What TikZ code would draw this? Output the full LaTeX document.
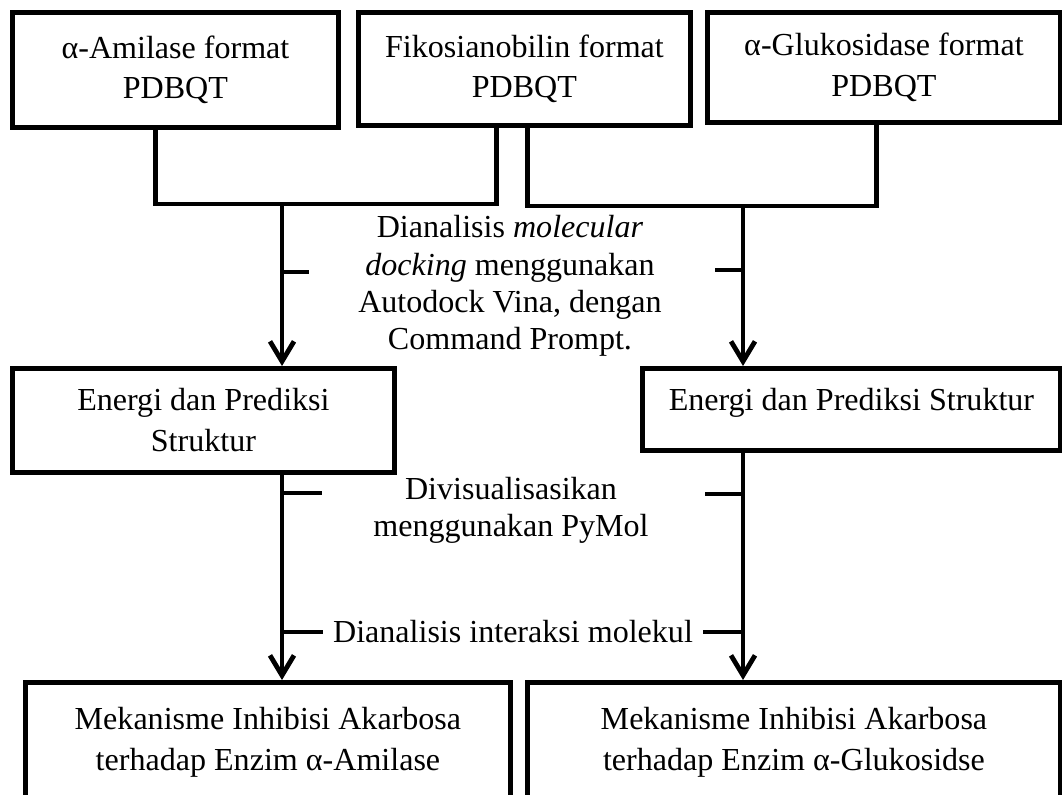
\documentclass[tikz,border=0pt]{standalone}
\usepackage{fontspec}
\setmainfont{Liberation Serif}
\usetikzlibrary{arrows.meta}

\begin{document}
\begin{tikzpicture}[
  x=0.025cm, y=-0.025cm,
  box/.style={rectangle, draw=black, line width=3.4pt, anchor=north west, inner sep=0pt, align=center, font=\fontsize{22.8}{29}\selectfont},
  note/.style={align=center, inner sep=0pt, font=\fontsize{22.8}{26.5}\selectfont},
  link/.style={draw=black, line width=3.4pt},
  arrow/.style={link, -{Straight Barb[length=0.5cm, width=0.6cm]}}
]
  \useasboundingbox (0,0) rectangle (1062,794);
  \clip (0,0) rectangle (1062,794);

  \node[box, minimum width=8.15cm, minimum height=2.875cm] (amilase) at (10,10) {α-Amilase format\\PDBQT};
  \node[box, minimum width=8.3cm, minimum height=2.825cm] (fiko) at (356,10) {Fikosianobilin format\\PDBQT};
  \node[box, minimum width=8.825cm, minimum height=2.75cm] (gluko) at (705,10) {α-Glukosidase format\\PDBQT};
  \node[box, minimum width=9.55cm, minimum height=2.6cm] (energiA) at (10,366) {Energi dan Prediksi\\Struktur};
  \node[box, minimum width=10.45cm, text height=1.05cm, text depth=1.0cm] (energiG) at (640,366) {Energi dan Prediksi Struktur};
  \node[box, minimum width=12.125cm, minimum height=3cm] (hasilA) at (23,680) {Mekanisme Inhibisi Akarbosa\\terhadap Enzim α-Amilase};
  \node[box, minimum width=13.325cm, minimum height=3cm] (hasilG) at (525,680) {Mekanisme Inhibisi Akarbosa\\terhadap Enzim α-Glukosidse};

  \node[note] (lbdock) at (510,286) {Dianalisis \emph{molecular}\\\emph{docking} menggunakan\\Autodock Vina, dengan\\Command Prompt.};
  \node[note] (lbvisual) at (511,510) {Divisualisasikan\\menggunakan PyMol};
  \node[note, inner xsep=0.25cm] (lbinteraksi) at (513,632) {Dianalisis interaksi molekul};

  \coordinate (barA) at (282,204);
  \coordinate (barG) at (743,206);

  \draw[link] ([xshift=-0.5cm]amilase.south) |- (barA) -| ([xshift=-0.7cm]fiko.south);
  \draw[link] ([xshift=0.075cm]fiko.south) |- (barG) -| ([xshift=-0.19cm]gluko.south);

  \draw[arrow] (barA) -- (barA |- energiA.north);
  \draw[arrow] (barG) -- (barG |- energiG.north);
  \draw[arrow] (barA |- energiA.south) -- (barA |- hasilA.north);
  \draw[arrow] (barG |- energiG.south) -- (barG |- hasilG.north);

  \draw[link] (barA |- 0,272) -- ++(27,0);
  \draw[link] (barG |- 0,270) -- ++(-28,0);
  \draw[link] (barA |- 0,493) -- ++(40,0);
  \draw[link] (barG |- 0,494) -- ++(-38,0);
  \draw[link] (barA |- lbinteraksi) -- (lbinteraksi.west);
  \draw[link] (barG |- lbinteraksi) -- (lbinteraksi.east);
\end{tikzpicture}
\end{document}
